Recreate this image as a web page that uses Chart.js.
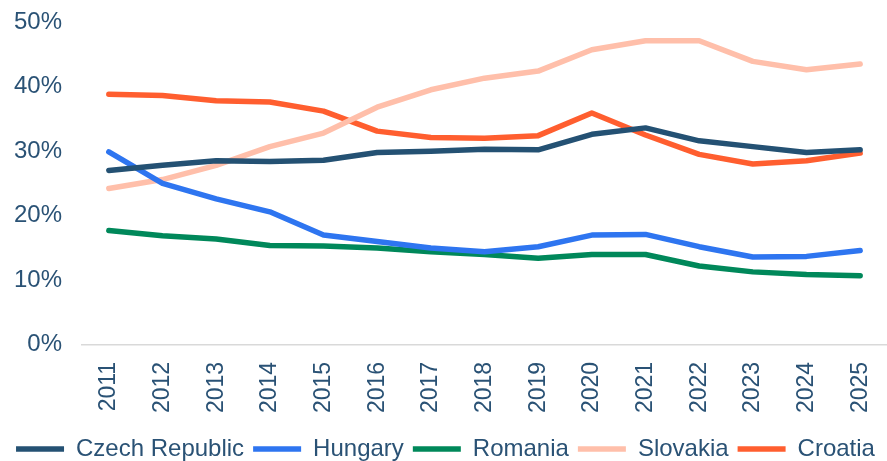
<!DOCTYPE html>
<html>
<head>
<meta charset="utf-8">
<script src="https://cdn.jsdelivr.net/npm/chart.js@4/dist/chart.umd.min.js"></script>
<style>
  html, body { margin: 0; padding: 0; background: #ffffff; }
  #wrap { width: 887px; height: 461px; }
</style>
</head>
<body>
<div id="wrap"><canvas id="c" width="887" height="461"></canvas></div>
<script>
const years = ['2011','2012','2013','2014','2015','2016','2017','2018','2019','2020','2021','2022','2023','2024','2025'];
const czechRepublic = [27.0, 27.8, 28.5, 28.4, 28.6, 29.8, 30.0, 30.3, 30.2, 32.6, 33.6, 31.6, 30.7, 29.8, 30.2];
const hungary       = [29.9, 25.0, 22.6, 20.6, 17.0, 16.0, 15.0, 14.4, 15.2, 17.0, 17.1, 15.2, 13.6, 13.7, 14.6];
const romania       = [17.7, 16.9, 16.4, 15.4, 15.3, 15.0, 14.4, 14.0, 13.4, 14.0, 14.0, 12.2, 11.3, 10.9, 10.7];
const slovakia      = [24.2, 25.6, 27.8, 30.7, 32.8, 36.8, 39.5, 41.3, 42.4, 45.7, 47.1, 47.1, 43.9, 42.6, 43.5];
const croatia       = [38.8, 38.6, 37.8, 37.6, 36.2, 33.1, 32.1, 32.0, 32.4, 35.9, 32.5, 29.5, 28.0, 28.5, 29.7];
const yTicks = [0, 10, 20, 30, 40, 50];

const textColor = '#2A5275';
function ds(label, data, color) {
  return {
    label: label, data: data, borderColor: color, backgroundColor: color,
    borderWidth: 5.5, borderCapStyle: 'round', borderJoinStyle: 'round',
    pointRadius: 0, pointHoverRadius: 0, tension: 0, fill: false
  };
}

new Chart(document.getElementById('c'), {
  type: 'line',
  data: {
    labels: years,
    datasets: [
      ds('Czech Republic', czechRepublic, '#245173'),
      ds('Hungary', hungary, '#2E75F0'),
      ds('Romania', romania, '#00885A'),
      ds('Slovakia', slovakia, '#FFBFAA'),
      ds('Croatia', croatia, '#FF5E2F')
    ]
  },
  options: {
    responsive: false,
    animation: false,
    devicePixelRatio: 1,
    layout: { padding: { left: 0, right: -4, top: 22, bottom: -10 } },
    plugins: {
      tooltip: { enabled: false },
      legend: {
        position: 'bottom',
        labels: {
          usePointStyle: true,
          pointStyle: 'line',
          pointStyleWidth: 48,
          boxWidth: 48,
          padding: 9,
          color: textColor,
          font: { family: '"Liberation Sans", Arial, sans-serif', size: 24 }
        }
      }
    },
    scales: {
      x: {
        offset: true,
        grid: { display: false, drawTicks: true, tickLength: 8 },
        border: { display: true, color: '#D9D9D9', width: 1.5 },
        afterFit: (axis) => { axis.height += 6; axis.paddingLeft = 0; axis.paddingRight = 0; },
        ticks: {
          color: textColor, minRotation: 90, maxRotation: 90, padding: 9, autoSkip: false,
          font: { family: '"Liberation Sans", Arial, sans-serif', size: 23 }
        }
      },
      y: {
        min: 0, max: 50,
        afterBuildTicks: (axis) => { axis.ticks = yTicks.map(v => ({ value: v })); },
        afterFit: (axis) => { axis.width = 82; axis.paddingTop = 0; axis.paddingBottom = 0; },
        grid: { display: false, drawTicks: false },
        border: { display: false },
        ticks: {
          color: textColor, padding: 20,
          font: { family: '"Liberation Sans", Arial, sans-serif', size: 24 },
          callback: (v) => v + '%'
        }
      }
    }
  }
});
</script>
</body>
</html>
